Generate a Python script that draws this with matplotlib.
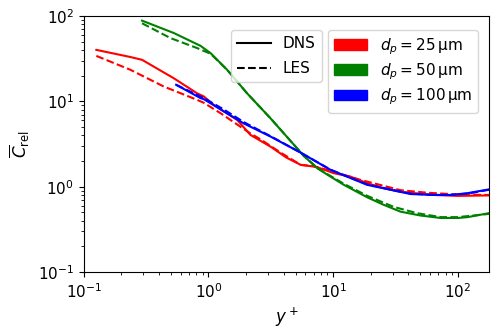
import matplotlib
matplotlib.use('Agg')
import matplotlib.pyplot as plt
from matplotlib.lines import Line2D
from matplotlib.patches import Patch

# values
red_dns_x = [0.126, 0.236, 0.293, 0.527, 0.81, 0.917, 1.10, 1.41, 1.70, 2.17, 3.15, 4.2, 5.5, 7.0, 7.9, 10.1, 13.8, 18.7, 25.5, 34.7, 64, 100, 178]
red_dns_y = [40, 33, 30.6, 18.6, 12.4, 11.4, 9.1, 7.2, 6.05, 4.04, 2.94, 2.2, 1.8, 1.72, 1.64, 1.44, 1.31, 1.1, 0.96, 0.87, 0.8, 0.78, 0.79]
red_les_x = [0.126, 0.236, 0.437, 0.81, 0.917, 1.25, 1.8, 2.17, 2.6, 3.8, 5.5, 7.0, 10, 16.6, 25, 34.7, 56.5, 100, 178]
red_les_y = [34, 23.4, 14.9, 10.4, 9.6, 7.25, 5.05, 4.2, 3.6, 2.5, 1.8, 1.74, 1.5, 1.2, 1.03, 0.91, 0.85, 0.81, 0.8]

green_dns_x = [0.293, 0.527, 0.863, 1.04, 1.41, 2.04, 3.15, 4.5, 5.8, 7.5, 9.0, 12.2, 18.8, 25, 34.7, 50, 73, 100, 120, 178]
green_dns_y = [88, 63, 44.6, 36.6, 23.4, 12.4, 6.3, 3.5, 2.3, 1.64, 1.38, 1.05, 0.75, 0.62, 0.51, 0.46, 0.43, 0.43, 0.44, 0.49]
green_les_x = [0.293, 0.495, 0.81, 1.04, 1.41, 2.04, 3.15, 4.5, 5.8, 7.5, 9.0, 12.2, 18.8, 30.6, 47, 73, 100, 178]
green_les_y = [82, 55, 42, 36, 23.4, 12.4, 6.3, 3.5, 2.3, 1.64, 1.4, 1.08, 0.78, 0.58, 0.49, 0.44, 0.44, 0.48]

blue_dns_x = [0.55, 0.863, 0.917, 1.33, 1.92, 3.15, 5.5, 9.55, 18.8, 41.8, 64, 88, 120, 178]
blue_dns_y = [15.6, 10.9, 10.6, 7.6, 5.5, 3.86, 2.5, 1.57, 1.05, 0.82, 0.8, 0.8, 0.84, 0.93]
blue_les_x = [0.55, 0.917, 1.33, 1.92, 3.15, 5.5, 9.55, 18.8, 41.8, 64, 88, 120, 178]
blue_les_y = [15.6, 10.9, 8.0, 5.7, 3.9, 2.5, 1.58, 1.06, 0.83, 0.8, 0.8, 0.83, 0.92]

sizes = [r'$d_p = 25\,\mathrm{\mu m}$', r'$d_p = 50\,\mathrm{\mu m}$', r'$d_p = 100\,\mathrm{\mu m}$']
colors = ['red', 'green', 'blue']

fig, ax = plt.subplots(figsize=(4.99, 3.31), dpi=100)
fig.subplots_adjust(left=0.168, right=0.98, top=0.952, bottom=0.178)

lw = 1.5
ax.plot(red_dns_x, red_dns_y, '-', color='red', lw=lw)
ax.plot(red_les_x, red_les_y, '--', color='red', lw=lw)
ax.plot(green_dns_x, green_dns_y, '-', color='green', lw=lw)
ax.plot(green_les_x, green_les_y, '--', color='green', lw=lw)
ax.plot(blue_dns_x, blue_dns_y, '-', color='blue', lw=lw)
ax.plot(blue_les_x, blue_les_y, '--', color='blue', lw=lw)

ax.set_xscale('log')
ax.set_yscale('log')
ax.set_xlim(0.1, 178)
ax.set_ylim(0.1, 100)
ax.tick_params(labelsize=11)
ax.set_xlabel(r'$y^+$', fontsize=12)
ax.set_ylabel(r'$\overline{C}_\mathrm{rel}$', fontsize=12)

style_handles = [Line2D([], [], color='k', ls='-', lw=lw),
                 Line2D([], [], color='k', ls='--', lw=lw)]
leg1 = ax.legend(style_handles, ['DNS', 'LES'], loc='upper left',
                 bbox_to_anchor=(0.363, 0.945), borderaxespad=0, fontsize=11,
                 handlelength=2.2, labelspacing=0.65)
ax.add_artist(leg1)

color_handles = [Patch(color=c) for c in colors]
ax.legend(color_handles, sizes, loc='upper left', bbox_to_anchor=(0.602, 0.945),
          borderaxespad=0, fontsize=11, handlelength=2.2, labelspacing=0.3)

fig.savefig('out.png', dpi=100)
